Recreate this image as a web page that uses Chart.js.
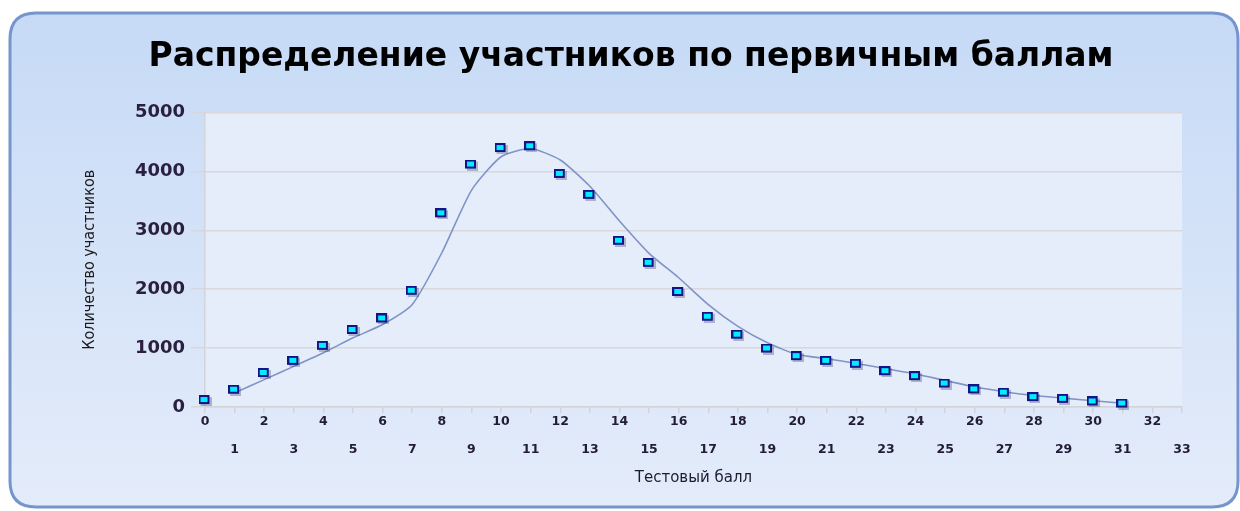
<!DOCTYPE html>
<html lang="ru">
<head>
  <meta charset="UTF-8">
  <title>Распределение участников по первичным баллам</title>
  <script src="https://cdn.jsdelivr.net/npm/chart.js"></script>
  <style>
    html, body { margin: 0; padding: 0; background: #ffffff; }
    canvas { display: block; }
  </style>
</head>
<body>
  <canvas id="myChart" width="1240" height="511"></canvas>

  <script>
    // Данные с картинки
    const scores = [0, 1, 2, 3, 4, 5, 6, 7, 8, 9, 10, 11, 12, 13, 14, 15,
                    16, 17, 18, 19, 20, 21, 22, 23, 24, 25, 26, 27, 28, 29, 30, 31];
    const participants = [110, 285, 570, 775, 1030, 1300, 1495, 1965, 3280, 4110, 4390, 4420, 3950, 3595, 2815, 2440,
                          1945, 1525, 1220, 985, 855, 775, 725, 600, 515, 390, 290, 235, 160, 130, 85, 50];
    // сглаженная кривая (от 1 до 31 балла)
    const trendScores = [1, 2, 3, 4, 5, 6, 7, 8, 9, 10, 11, 12, 13, 14, 15, 16,
                         17, 18, 19, 20, 21, 22, 23, 24, 25, 26, 27, 28, 29, 30, 31];
    const trendValues = [240, 465, 690, 920, 1175, 1400, 1740, 2620, 3680, 4250, 4390, 4195, 3750, 3160, 2610, 2195,
                         1740, 1370, 1090, 890, 820, 740, 650, 560, 450, 340, 260, 195, 150, 105, 65];
    const yTicks = [0, 1000, 2000, 3000, 4000, 5000];
    const xMax = 33;

    // маркер: голубой прямоугольник с тёмной рамкой и тенью
    const marker = document.createElement('canvas');
    marker.width = 13;
    marker.height = 11;
    const m = marker.getContext('2d');
    m.fillStyle = 'rgba(40, 50, 90, 0.3)';
    m.fillRect(2, 2, 11, 9);
    m.fillStyle = '#141488';
    m.fillRect(0, 0, 11, 9);
    m.fillStyle = '#00eeff';
    m.fillRect(2, 2, 7, 5);

    // фон панели и области построения
    const background = {
      id: 'background',
      beforeDraw(chart) {
        const c = chart.ctx;
        const a = chart.chartArea;
        c.save();
        c.fillStyle = '#ffffff';
        c.fillRect(0, 0, chart.width, chart.height);

        const x = 10, y = 13, w = 1228, h = 494, r = 26;
        c.beginPath();
        c.moveTo(x + r, y);
        c.lineTo(x + w - r, y);
        c.quadraticCurveTo(x + w, y, x + w, y + r);
        c.lineTo(x + w, y + h - r);
        c.quadraticCurveTo(x + w, y + h, x + w - r, y + h);
        c.lineTo(x + r, y + h);
        c.quadraticCurveTo(x, y + h, x, y + h - r);
        c.lineTo(x, y + r);
        c.quadraticCurveTo(x, y, x + r, y);
        c.closePath();
        const g = c.createLinearGradient(0, y, 0, y + h);
        g.addColorStop(0, '#c6daf6');
        g.addColorStop(1, '#e4ecfa');
        c.fillStyle = g;
        c.fill();
        c.lineWidth = 3;
        c.strokeStyle = '#7595cc';
        c.stroke();

        c.fillStyle = '#e5edfa';
        c.fillRect(a.left, a.top, a.right - a.left, a.bottom - a.top);
        c.restore();
      }
    };

    const ctx = document.getElementById('myChart').getContext('2d');

    const myChart = new Chart(ctx, {
      data: {
        datasets: [{
          type: 'scatter',
          data: scores.map((s, i) => ({ x: s, y: participants[i] })),
          pointStyle: marker,
          pointRadius: 6,
          pointHoverRadius: 6,
          clip: false,
          order: 1
        }, {
          type: 'line',
          data: trendScores.map((s, i) => ({ x: s, y: trendValues[i] })),
          borderColor: '#8093c6',
          borderWidth: 1.6,
          pointRadius: 0,
          tension: 0.2,
          fill: false,
          order: 2
        }]
      },
      options: {
        responsive: false,
        animation: false,
        layout: {
          padding: { left: 80, right: 58, top: 32, bottom: 24 }
        },
        plugins: {
          legend: { display: false },
          tooltip: { enabled: false },
          title: {
            display: true,
            text: 'Распределение участников по первичным баллам',
            color: '#000000',
            font: { family: 'DejaVu Sans', size: 33, weight: 'bold' },
            padding: { top: 6, bottom: 35 }
          }
        },
        scales: {
          x: {
            type: 'linear',
            min: 0,
            max: xMax,
            afterBuildTicks(scale) {
              const t = [];
              for (let v = 0; v <= xMax; v++) t.push({ value: v });
              scale.ticks = t;
            },
            ticks: {
              autoSkip: false,
              maxRotation: 0,
              color: '#221c34',
              padding: -5,
              font: { family: 'DejaVu Sans', size: 12.5, weight: 'bold', lineHeight: 2.2 },
              callback: v => (v % 2 === 0 ? [String(v), ''] : ['', String(v)])
            },
            grid: {
              drawOnChartArea: false,
              color: '#d2d4da',
              tickLength: 6,
              lineWidth: 1.5
            },
            border: { color: '#d2d4da', width: 1.5 },
            title: {
              display: true,
              text: 'Тестовый балл',
              color: '#1e1a30',
              font: { family: 'DejaVu Sans', size: 15 },
              padding: { top: 11, bottom: 0 }
            }
          },
          y: {
            min: 0,
            max: 5000,
            afterBuildTicks(scale) {
              scale.ticks = yTicks.map(v => ({ value: v }));
            },
            afterFit(scale) {
              scale.width = 125;
            },
            ticks: {
              color: '#2a1f3e',
              padding: 6,
              font: { family: 'DejaVu Sans', size: 18, weight: 'bold' },
              callback: v => String(v)
            },
            grid: {
              color: '#d8d8dc',
              lineWidth: 1.5,
              tickLength: 14
            },
            border: { color: '#d2d4da', width: 1.5 },
            title: {
              display: true,
              text: 'Количество участников',
              color: '#1a1a1a',
              font: { family: '"Liberation Sans Narrow", "DejaVu Sans Condensed", sans-serif', size: 16 },
              padding: { top: 0, bottom: 0 }
            }
          }
        }
      },
      plugins: [background]
    });
  </script>
</body>
</html>
